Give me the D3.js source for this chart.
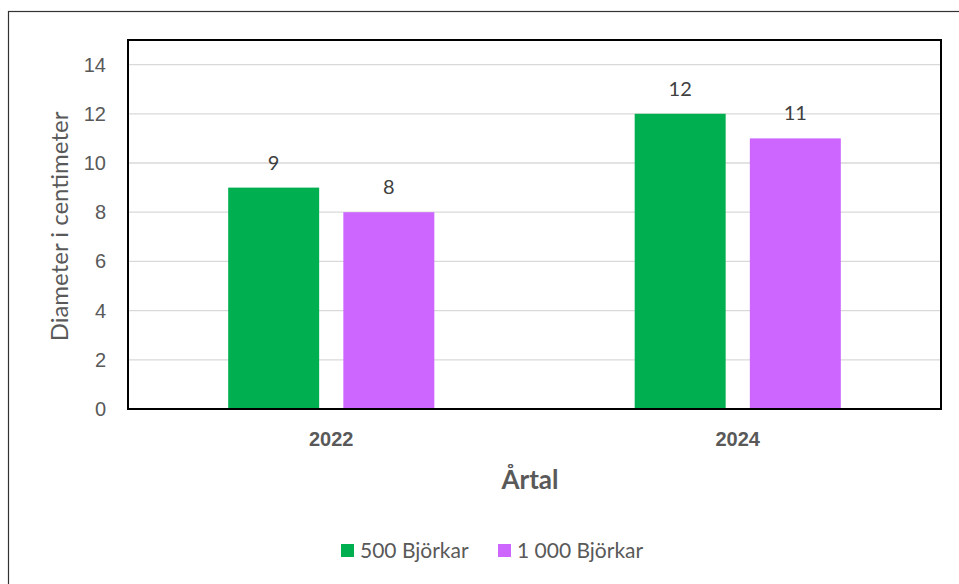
<!DOCTYPE html>
<html>
<head>
<meta charset="utf-8">
<script src="https://cdn.jsdelivr.net/npm/d3@7"></script>
<style>
    body { margin: 0; background: #fff; }
    svg { display: block; font-family: Lato, "Open Sans", sans-serif; }
</style>
</head>
<body>
<div id="chart"></div>
<script>
var years = ['2022', '2024'];
var seriesNames = ['500 Björkar', '1 000 Björkar'];
var values500 = [9, 12];
var values1000 = [8, 11];
var yTicks = [0, 2, 4, 6, 8, 10, 12, 14];
var colors = ['#00b050', '#cc66ff'];

var width = 959, height = 584;
var plot = {left: 128, right: 941, top: 40, bottom: 409};

var svg = d3.select('#chart').append('svg')
    .attr('width', width)
    .attr('height', height);

// outer chart frame, runs off the right and bottom of the picture
svg.append('rect')
    .attr('x', 8.5).attr('y', 11.5)
    .attr('width', 1000).attr('height', 1000)
    .style('fill', 'none')
    .style('stroke', '#333')
    .style('stroke-width', 1.2);

var x = d3.scaleBand()
    .domain(years)
    .range([plot.left, plot.right]);

var inner = d3.scaleBand()
    .domain(seriesNames)
    .range([0, x.bandwidth()])
    .paddingInner(0.21)
    .paddingOuter(0.87);

var y = d3.scaleLinear()
    .domain([0, 15])
    .range([plot.bottom, plot.top]);

// gridlines
svg.append('g')
    .selectAll('line')
    .data(yTicks.filter(function (d) { return d > 0; }))
    .enter().append('line')
    .attr('x1', plot.left).attr('x2', plot.right)
    .attr('y1', function (d) { return y(d); })
    .attr('y2', function (d) { return y(d); })
    .style('stroke', '#d9d9d9')
    .style('stroke-width', 1.3);

// y axis labels
var yAxis = d3.axisLeft(y).tickValues(yTicks).tickSize(0).tickPadding(22);
var yg = svg.append('g')
    .attr('transform', 'translate(' + plot.left + ',0)')
    .call(yAxis);
yg.select('.domain').remove();
yg.selectAll('text')
    .attr('font-family', null)
    .style('font-size', '20px')
    .style('fill', '#595959');

// bars
var series = [values500, values1000];
series.forEach(function (vals, si) {
    var g = svg.append('g');
    g.selectAll('rect')
        .data(vals)
        .enter().append('rect')
        .attr('x', function (d, i) { return x(years[i]) + inner(seriesNames[si]); })
        .attr('y', function (d) { return y(d); })
        .attr('width', inner.bandwidth())
        .attr('height', function (d) { return y(0) - y(d); })
        .style('fill', colors[si]);

    g.selectAll('text')
        .data(vals)
        .enter().append('text')
        .attr('x', function (d, i) { return x(years[i]) + inner(seriesNames[si]) + inner.bandwidth() / 2; })
        .attr('y', function (d) { return y(d) - 18; })
        .attr('text-anchor', 'middle')
        .style('font-size', '20px')
        .style('fill', '#404040')
        .text(function (d) { return d; });
});

// plot frame
svg.append('rect')
    .attr('x', plot.left).attr('y', plot.top)
    .attr('width', plot.right - plot.left)
    .attr('height', plot.bottom - plot.top)
    .style('fill', 'none')
    .style('stroke', '#000')
    .style('stroke-width', 2);

// x axis labels
var xAxis = d3.axisBottom(x).tickSize(0).tickPadding(23);
var xg = svg.append('g')
    .attr('transform', 'translate(0,' + plot.bottom + ')')
    .call(xAxis);
xg.select('.domain').remove();
xg.selectAll('text')
    .attr('font-family', null)
    .style('font-size', '20px')
    .style('font-weight', 'bold')
    .style('fill', '#595959');

// axis titles
svg.append('text')
    .attr('x', 530)
    .attr('y', 489)
    .attr('text-anchor', 'middle')
    .style('font-size', '26px')
    .style('font-weight', 'bold')
    .style('fill', '#595959')
    .text('Årtal');

svg.append('text')
    .attr('transform', 'translate(68,' + ((plot.top + plot.bottom) / 2 + 2) + ') rotate(-90)')
    .attr('text-anchor', 'middle')
    .style('font-size', '24px')
    .style('fill', '#595959')
    .text('Diameter i centimeter');

// legend
var legendX = [341, 498];
var legend = svg.append('g');
seriesNames.forEach(function (name, i) {
    legend.append('rect')
        .attr('x', legendX[i]).attr('y', 544)
        .attr('width', 13).attr('height', 13)
        .style('fill', colors[i]);
    legend.append('text')
        .attr('x', legendX[i] + 19).attr('y', 558)
        .style('font-size', '21px')
        .style('fill', '#595959')
        .text(name);
});
</script>
</body>
</html>
